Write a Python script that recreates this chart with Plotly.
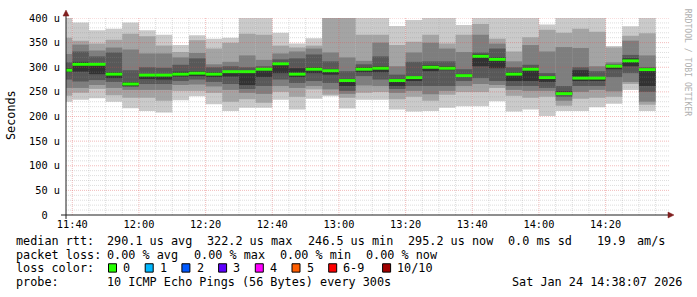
import plotly.graph_objects as go
import pandas as pd

# ---------------- data ----------------
day = "2026-01-24"
step_end = ["11:40", "11:45", "11:50", "11:55", "12:00", "12:05", "12:10", "12:15", "12:20",
            "12:25", "12:30", "12:35", "12:40", "12:45", "12:50", "12:55", "13:00", "13:05",
            "13:10", "13:15", "13:20", "13:25", "13:30", "13:35", "13:40", "13:45", "13:50",
            "13:55", "14:00", "14:05", "14:10", "14:15", "14:20", "14:25", "14:30", "14:35"]

# sorted ping rtts (microseconds) per 5-minute step
ping1 = [230, 234, 237, 230, 217, 211, 208, 233, 241, 225, 211, 218, 218, 234, 214, 236, 241, 216,
         234, 234, 214, 210, 211, 218, 221, 221, 231, 210, 214, 201, 211, 211, 219, 226, 254, 211]
ping2 = [242, 248, 256, 243, 238, 238, 232, 252, 252, 248, 230, 235, 228, 250, 240, 255, 244, 238,
         248, 250, 235, 240, 232, 244, 250, 250, 258, 242, 238, 240, 222, 236, 238, 240, 266, 224]
ping3 = [258, 258, 264, 258, 254, 254, 254, 264, 265, 261, 254, 248, 246, 262, 258, 262, 255, 246,
         263, 262, 248, 252, 245, 252, 262, 266, 264, 254, 252, 252, 232, 250, 254, 251, 270, 230]
ping4 = [275, 271, 274, 270, 260, 266, 266, 272, 275, 270, 266, 256, 262, 275, 268, 272, 268, 252,
         282, 275, 256, 262, 262, 262, 272, 278, 272, 262, 262, 258, 240, 262, 262, 280, 288, 250]
ping5 = [290, 291, 286, 278, 262, 276, 275, 281, 282, 280, 281, 264, 280, 288, 280, 288, 285, 262,
         290, 290, 262, 272, 292, 294, 280, 302, 298, 272, 272, 270, 244, 272, 272, 296, 302, 262]
ping6 = [298, 311, 306, 290, 270, 286, 286, 291, 292, 290, 292, 292, 298, 309, 298, 300, 296, 276,
         300, 302, 276, 282, 304, 302, 286, 326, 320, 290, 299, 282, 251, 294, 280, 304, 318, 298]
ping7 = [310, 332, 322, 330, 294, 300, 299, 305, 318, 300, 302, 300, 302, 316, 318, 326, 312, 292,
         306, 322, 285, 311, 312, 312, 296, 330, 338, 300, 305, 288, 262, 300, 292, 306, 325, 300]
ping8 = [327, 346, 334, 340, 336, 328, 328, 320, 329, 306, 311, 324, 315, 328, 332, 338, 330, 320,
         313, 350, 302, 330, 350, 338, 331, 366, 348, 312, 345, 332, 341, 339, 302, 310, 354, 324]
ping9 = [360, 354, 348, 356, 368, 363, 344, 331, 355, 338, 350, 368, 366, 344, 340, 344, 405, 404,
         366, 366, 345, 352, 366, 348, 366, 388, 358, 332, 361, 376, 370, 378, 372, 340, 364, 369]
ping10 = [410, 391, 375, 378, 391, 375, 366, 345, 365, 358, 360, 402, 402, 370, 348, 359, 420, 420,
          403, 404, 384, 396, 404, 404, 386, 404, 404, 402, 403, 387, 403, 401, 401, 343, 383, 401]
median = [294, 306, 306, 286, 266, 284, 284, 286, 288, 286, 291, 291, 296, 307, 286, 296, 293, 273,
          296, 298, 273, 279, 300, 298, 283, 322.2, 316, 286, 296, 279, 246.5, 278, 278, 302, 313, 295.2]

y_ticks = [0, 50, 100, 150, 200, 250, 300, 350, 400]
y_ticktext = ["0\u00a0\u00a0", "50 u", "100 u", "150 u", "200 u", "250 u", "300 u", "350 u", "400 u"]

stats_rtt = ["290.1 us avg", "322.2 us max", "246.5 us min", "295.2 us now", "0.0 ms sd", "19.9", "am/s"]
stats_loss = ["0.00 % avg", "0.00 % max", "0.00 % min", "0.00 % now"]
loss_labels = ["0", "1", "2", "3", "4", "5", "6-9", "10/10"]
loss_colors = ["#26ff00", "#00b8ff", "#0059ff", "#5e00ff", "#ff00ff", "#ff5e00", "#ff0000", "#a00000"]
probe_text = "10 ICMP Echo Pings (56 Bytes) every 300s"
stamp_text = "Sat Jan 24 14:38:07 2026"

# ---------------- figure ----------------
W, H = 697, 297
L, R, T, B = 66, 31, 15, 82
PW, PH = W - L - R, H - T - B
FONT = "DejaVu Sans Mono"


def px(xp, yp):
    return (xp - L) / PW, (T + PH - yp) / PH


ends = pd.to_datetime([f"{day} {t}" for t in step_end])
step_ms = 300000
centers = ends - pd.Timedelta(milliseconds=step_ms / 2)

pings = [ping1, ping2, ping3, ping4, ping5, ping6, ping7, ping8, ping9, ping10]
fig = go.Figure()
half = 5
for i in range(half):
    lo = pings[i]
    hi = pings[9 - i]
    g = int(190 / half * (half - (i + 1))) + 50
    fig.add_trace(go.Bar(
        x=centers, base=lo, y=[h - l for h, l in zip(hi, lo)], width=step_ms,
        marker=dict(color=f"rgb({g},{g},{g})", line=dict(width=0)),
        hoverinfo="skip", showlegend=False))

med_h = 6
fig.add_trace(go.Bar(
    x=centers, base=[m - med_h / 2 for m in median], y=[med_h] * len(median), width=step_ms,
    marker=dict(color=loss_colors[0], line=dict(width=0)), hoverinfo="skip", showlegend=False))

shapes = []
grid_minor = "rgba(143,143,143,0.3)"
grid_major = "rgba(222,79,79,0.38)"
# horizontal grid
for v in range(10, 401, 10):
    shapes.append(dict(type="line", xref="paper", yref="y", x0=0, x1=1.005, y0=v, y1=v,
                       line=dict(color=grid_major if v % 50 == 0 else grid_minor, width=1, dash="1px,1px"),
                       layer="above"))
# vertical grid
t = pd.Timestamp(f"{day} 11:40")
tend = pd.Timestamp(f"{day} 14:38")
while t <= tend:
    major = (t.minute % 20 == 0)
    shapes.append(dict(type="line", xref="x", yref="paper", x0=t, x1=t, y0=0, y1=1,
                       line=dict(color=grid_major if major else grid_minor, width=1, dash="1px,1px"),
                       layer="above"))
    t += pd.Timedelta(minutes=5)

axis_col = "rgb(31,31,31)"
arrow_col = "rgb(128,31,31)"
x0p, _ = px(61, 0)
x1p, _ = px(669, 0)
shapes.append(dict(type="line", xref="paper", yref="paper", x0=x0p, x1=x1p, y0=0, y1=0,
                   line=dict(color=axis_col, width=1), layer="above"))
_, yb = px(0, 219)
_, yt = px(0, 12)
shapes.append(dict(type="line", xref="paper", yref="paper", x0=0, x1=0, y0=yb, y1=yt,
                   line=dict(color=axis_col, width=1), layer="above"))
# arrows
ax_tip, _ = px(674, 0)
ax_base, _ = px(668, 0)
dy = 3 / PH
shapes.append(dict(type="path", xref="paper", yref="paper",
                   path=f"M {ax_base} {-dy} L {ax_tip} 0 L {ax_base} {dy} Z",
                   fillcolor=arrow_col, line=dict(color=arrow_col, width=0.5), layer="above"))
_, ay_tip = px(0, 7)
_, ay_base = px(0, 13)
dx = 3 / PW
shapes.append(dict(type="path", xref="paper", yref="paper",
                   path=f"M {-dx} {ay_base} L 0 {ay_tip} L {dx} {ay_base} Z",
                   fillcolor=arrow_col, line=dict(color=arrow_col, width=0.5), layer="above"))

annotations = []
LEG = 11.8


def text_at(xp, yp, s, size=LEG, anchor="left", color="black", angle=0):
    xx, yy = px(xp, yp)
    annotations.append(dict(x=xx, y=yy, xref="paper", yref="paper", text=s, showarrow=False,
                            xanchor=anchor, yanchor="middle", textangle=angle,
                            font=dict(family=FONT, size=size, color=color),
                            borderpad=0, borderwidth=0))


text_at(11, 113.5, "Seconds", anchor="center", angle=-90)
text_at(688, 59.5, "RRDTOOL / TOBI OETIKER", size=8.1, anchor="center", color="#b0b0b0", angle=90)

row1, row2, row3, row4 = 241.7, 255.7, 269.2, 283.3
text_at(15.5, row1, "median rtt:")
for xp, s in zip([107, 207.3, 307.6, 407.8, 508, 597, 637], stats_rtt):
    text_at(xp, row1, s)
text_at(15.5, row2, "packet loss:")
for xp, s in zip([107, 194, 280, 365.7], stats_loss):
    text_at(xp, row2, s)
text_at(15.5, row3, "loss color:")
box_x = [108.5, 145.2, 181.9, 218.6, 255.3, 292.0, 328.7, 382.6]
for bx, lab, col in zip(box_x, loss_labels, loss_colors):
    bx0, by0 = px(bx, 273)
    bx1, by1 = px(bx + 8, 264.5)
    shapes.append(dict(type="rect", xref="paper", yref="paper", x0=bx0, x1=bx1, y0=by0, y1=by1,
                       fillcolor=col, line=dict(color="black", width=1)))
    text_at(bx + 14.7, row3, lab)
text_at(15.5, row4, "probe:")
text_at(107, row4, probe_text)
text_at(681.5, row4, stamp_text, anchor="right")

fig.update_layout(
    width=W, height=H, margin=dict(l=L, r=R, t=T, b=B, pad=0),
    paper_bgcolor="white", plot_bgcolor="white", barmode="overlay", showlegend=False,
    font=dict(family=FONT, color="black"),
    shapes=shapes, annotations=annotations,
)
fig.update_xaxes(type="date", range=[f"{day} 11:38:07", f"{day} 14:38:07"],
                 showgrid=False, zeroline=False, showline=False,
                 tickmode="linear", tick0=f"{day} 11:40:00", dtick=1200000, tickformat="%H:%M",
                 tickfont=dict(family=FONT, size=10.3, color="black"), ticks="", ticklabelstandoff=2)
fig.update_yaxes(range=[0, 400], tickmode="array", tickvals=y_ticks, ticktext=y_ticktext,
                 showgrid=False, zeroline=False, showline=False,
                 tickfont=dict(family=FONT, size=10.3, color="black"), ticks="", ticklabelstandoff=5)

fig.write_html("out.html")
